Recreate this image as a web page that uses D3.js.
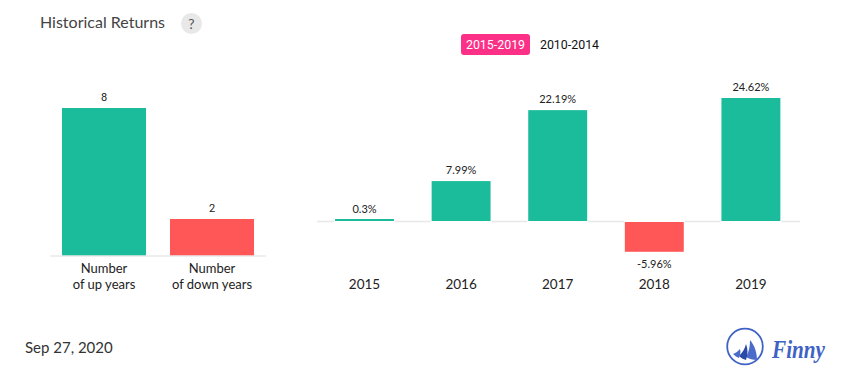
<!DOCTYPE html>
<html lang="en">
<head>
<meta charset="UTF-8"/>
<title>Historical Returns</title>
<script src="https://d3js.org/d3.v7.min.js"></script>
<style>
  html, body { margin: 0; background: #fff; overflow: hidden; }
  text { font-family: Lato, sans-serif; }
  .val { font-size: 11px; fill: #222; text-anchor: middle; }
  .cat { font-size: 13.5px; fill: #222; text-anchor: middle; }
  .btn { font-family: Roboto, sans-serif; font-size: 12.4px; text-anchor: middle; }
</style>
</head>
<body>
<svg id="chart" width="855" height="382"></svg>
<script>
const countLabels = [["Number", "of up years"], ["Number", "of down years"]];
const countValues = [8, 2];
const years = ["2015", "2016", "2017", "2018", "2019"];
const returns = [0.3, 7.99, 22.19, -5.96, 24.62];
const periods = ["2015-2019", "2010-2014"];

const green = "#1abc9c", red = "#ff5757", axisGrey = "#e8e8e8";
const svg = d3.select("#chart");

// title and help badge
svg.append("text").attr("x", 40).attr("y", 28)
  .style("font-size", "16px").attr("fill", "#444").text("Historical Returns");
svg.append("circle").attr("cx", 191.5).attr("cy", 23.5).attr("r", 10.5).attr("fill", "#e8e8e8");
svg.append("text").attr("x", 191.5).attr("y", 28.5).attr("text-anchor", "middle")
  .style("font-size", "14px").attr("fill", "#555").text("?");

// period toggle
svg.append("rect").attr("x", 461).attr("y", 34).attr("width", 69).attr("height", 21)
  .attr("rx", 3).attr("fill", "#fc3086");
svg.append("text").attr("class", "btn").attr("x", 495.5).attr("y", 49).attr("fill", "#fff").text(periods[0]);
svg.append("text").attr("class", "btn").attr("x", 569.5).attr("y", 49).attr("fill", "#111").text(periods[1]);

// left chart: up / down year counts
const xCount = d3.scaleBand().domain(d3.range(countValues.length)).range([50, 266]).paddingInner(0.222).paddingOuter(0.111);
const yCount = d3.scaleLinear().domain([0, 8]).range([256, 108]);

svg.append("g").selectAll("rect").data(countValues).join("rect")
  .attr("x", (d, i) => xCount(i))
  .attr("y", d => yCount(d))
  .attr("width", xCount.bandwidth())
  .attr("height", d => yCount(0) - yCount(d))
  .attr("fill", d => d === 8 ? green : red);

// axis sits on top of the bars here
svg.append("line").attr("x1", 50).attr("x2", 266).attr("y1", 256).attr("y2", 256)
  .attr("stroke", axisGrey).attr("stroke-width", 1.5);

svg.append("g").selectAll("text").data(countValues).join("text")
  .attr("class", "val")
  .style("font-family", "Roboto, sans-serif")
  .attr("x", (d, i) => xCount(i) + xCount.bandwidth() / 2)
  .attr("y", d => yCount(d) - 7)
  .text(d => d);

countLabels.forEach((lines, i) => {
  lines.forEach((line, j) => {
    svg.append("text").attr("class", "cat")
      .style("font-size", "13px")
      .attr("x", xCount(i) + xCount.bandwidth() / 2)
      .attr("y", 273 + j * 16)
      .text(line);
  });
});

// right chart: yearly returns
const xYear = d3.scaleBand().domain(years).range([316.2, 799.2]).paddingInner(0.39).paddingOuter(0.195);
const yRet = d3.scaleLinear().domain([0, 24.62]).range([221, 98]);
const barHeight = d => Math.max(2, Math.abs(yRet(d) - yRet(0))); // tiny returns stay visible

svg.append("line").attr("x1", 317).attr("x2", 800).attr("y1", 221.5).attr("y2", 221.5)
  .attr("stroke", axisGrey).attr("stroke-width", 1.5);

// white strip leaves the small gap in the axis either side of each bar
svg.append("g").selectAll("rect.gap").data(returns).join("rect")
  .attr("class", "gap")
  .attr("x", (d, i) => xYear(years[i]) - 1)
  .attr("y", 220)
  .attr("width", xYear.bandwidth() + 2)
  .attr("height", 3)
  .attr("fill", "#fff");

svg.append("g").selectAll("rect.bar").data(returns).join("rect")
  .attr("class", "bar")
  .attr("x", (d, i) => xYear(years[i]))
  .attr("y", d => d >= 0 ? yRet(0) - barHeight(d) : yRet(0) + 1)
  .attr("width", xYear.bandwidth())
  .attr("height", barHeight)
  .attr("fill", d => d >= 0 ? green : red);

svg.append("g").selectAll("text").data(returns).join("text")
  .attr("class", "val")
  .attr("x", (d, i) => xYear(years[i]) + xYear.bandwidth() / 2)
  .attr("y", d => d >= 0 ? yRet(d) - 7 : yRet(d) + 17)
  .text(d => d + "%");

svg.append("g").selectAll("text").data(years).join("text")
  .attr("class", "cat")
  .attr("x", d => xYear(d) + xYear.bandwidth() / 2)
  .attr("y", 289)
  .text(d => d);

// date
svg.append("text").attr("x", 25).attr("y", 353)
  .style("font-size", "15px").attr("fill", "#333").text("Sep 27, 2020");

// logo
const logo = svg.append("g");
logo.append("circle").attr("cx", 745).attr("cy", 346.5).attr("r", 17.8)
  .attr("fill", "none").attr("stroke", "#3f63c5").attr("stroke-width", 1.8);
logo.append("path").attr("fill", "#4a6bc9")
  .attr("d", "M750 340 C755 346 757 353 757 360 C753 360 749 359 746 357 C749 352 750 346 750 340Z");
logo.append("path").attr("fill", "#2a4aa8")
  .attr("d", "M746 344 C748 349 748 354 746 360 C743 359 741 358 739 356 C742 353 745 349 746 344Z");
logo.append("path").attr("fill", "#4a6bc9")
  .attr("d", "M740 349 C741 352 740 355 739 358 C737 357 735 356 733 354 C736 353 738 351 740 349Z");
svg.append("text").attr("x", 772).attr("y", 358)
  .style("font-family", "'Liberation Serif', serif").style("font-style", "italic").style("font-weight", "bold")
  .style("font-size", "25px").attr("fill", "#3f63c5").attr("textLength", 53).attr("lengthAdjust", "spacingAndGlyphs").text("Finny");
</script>
</body>
</html>
